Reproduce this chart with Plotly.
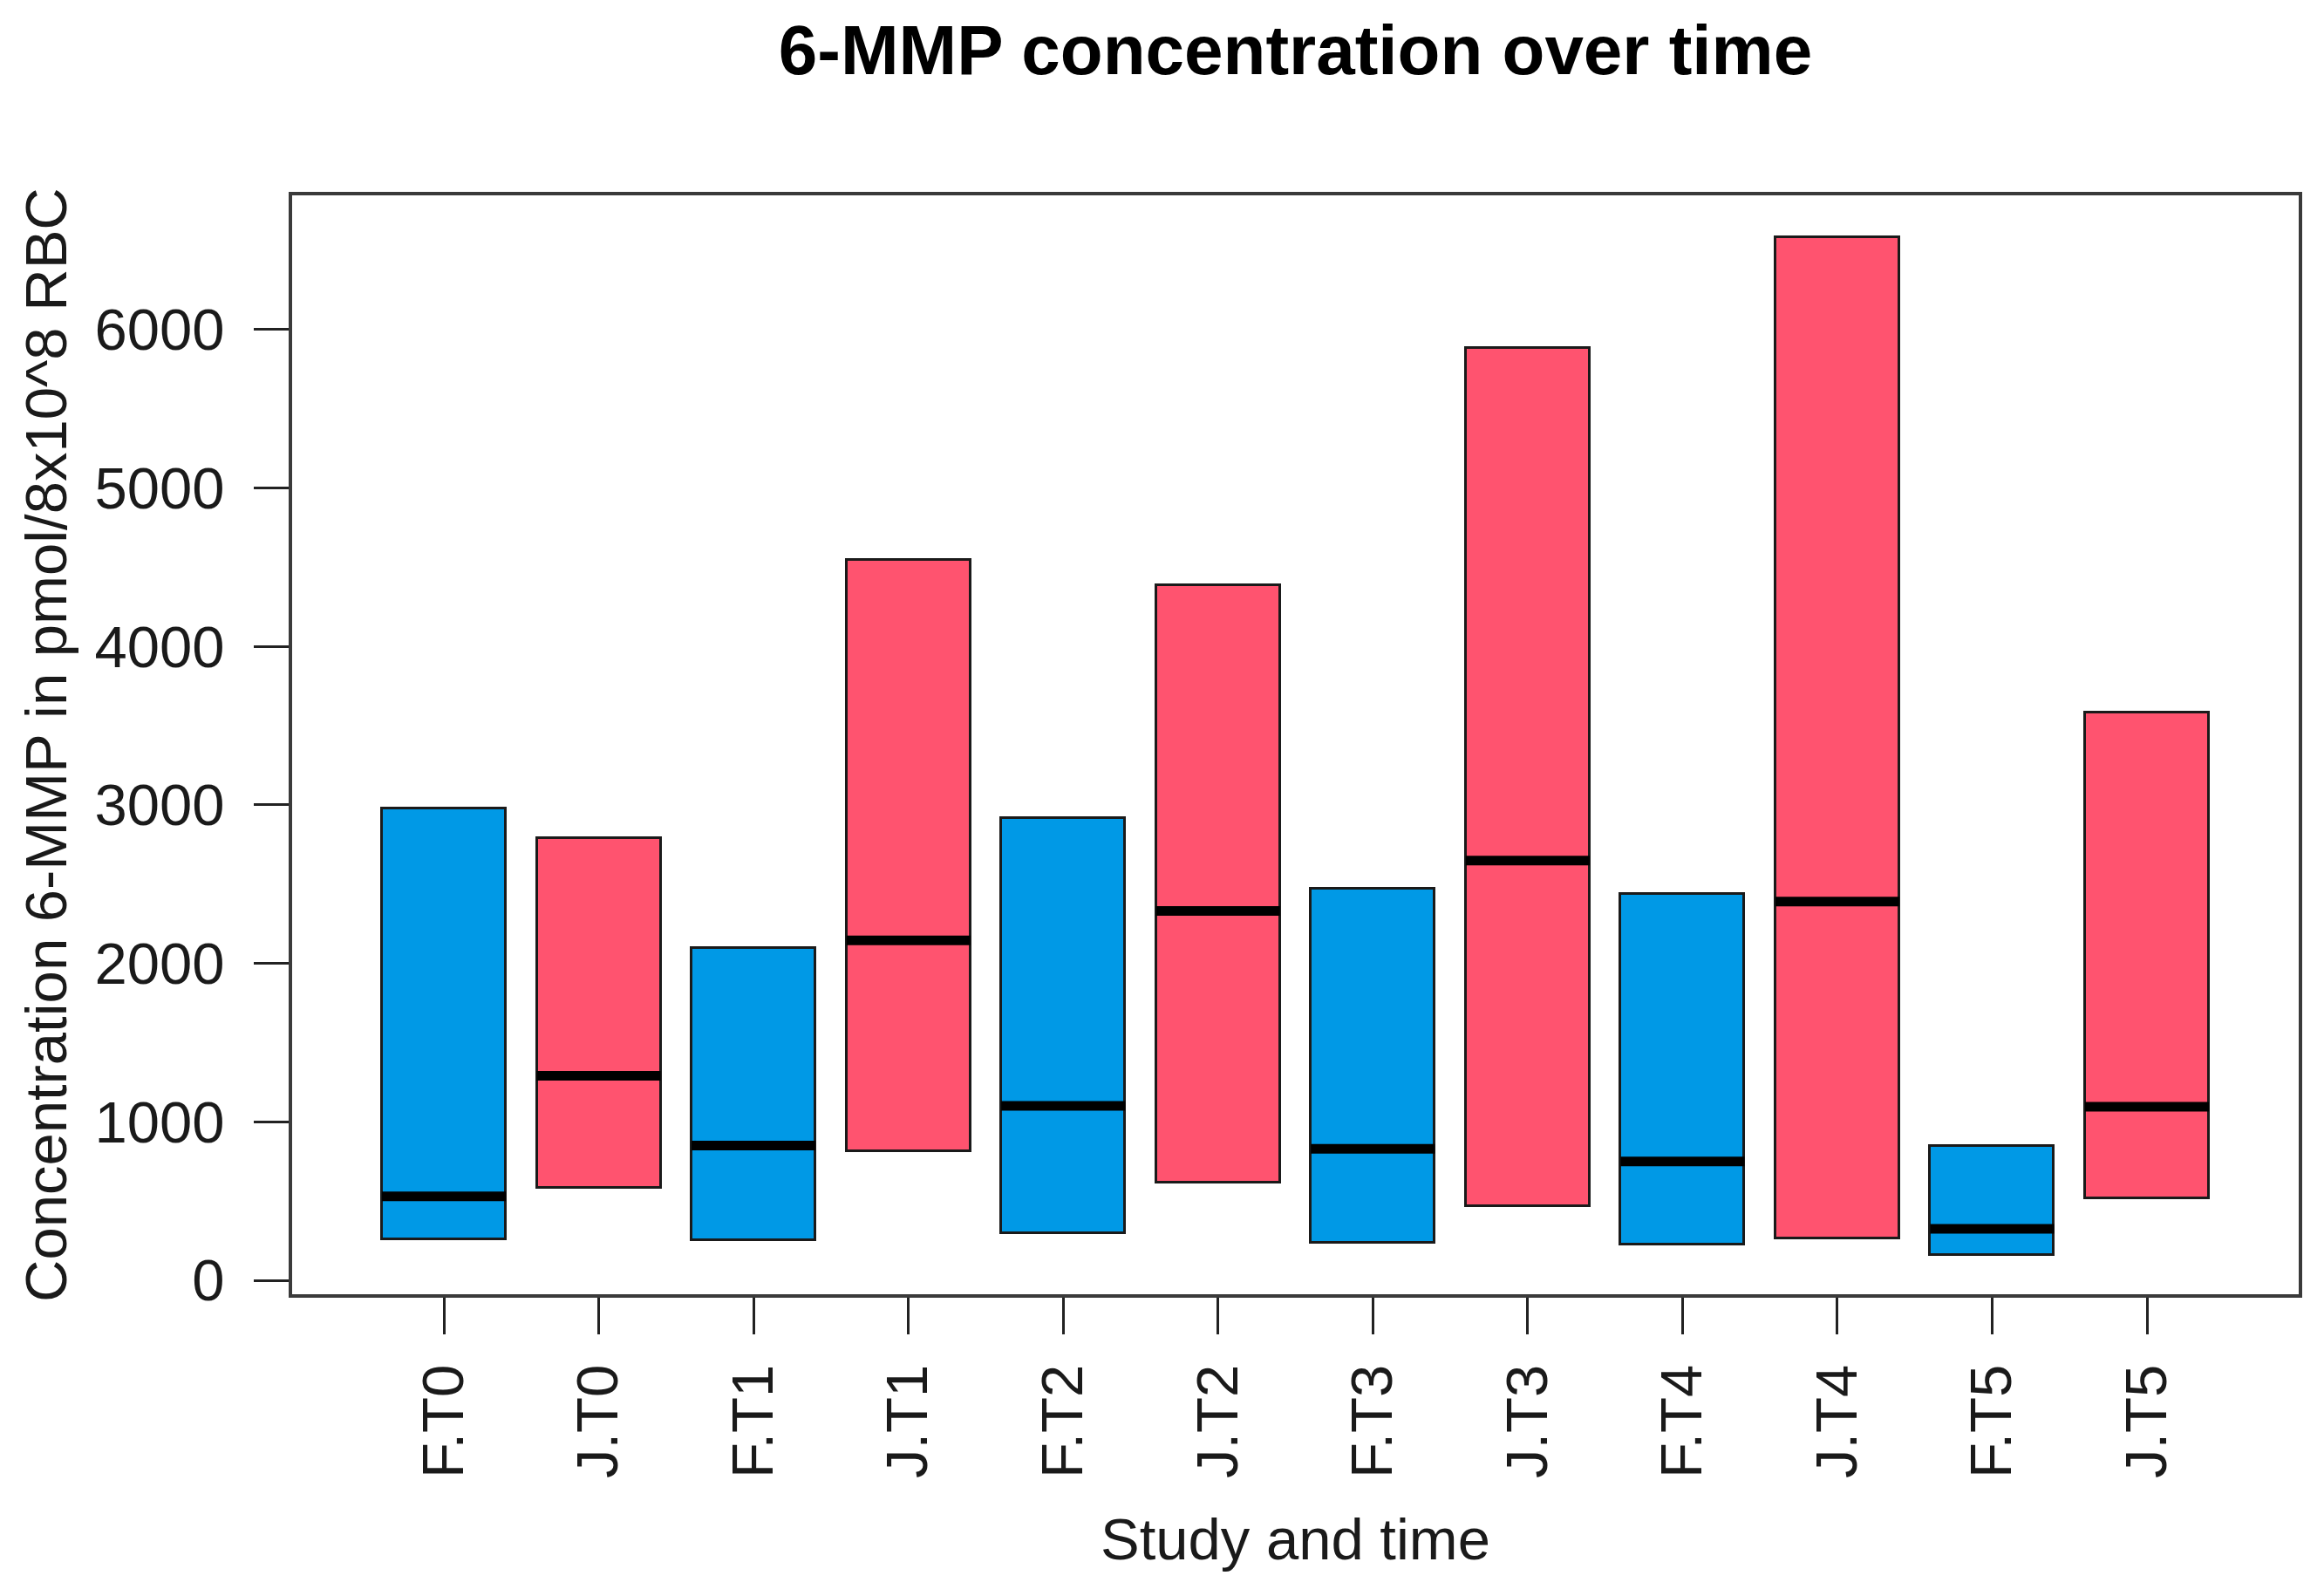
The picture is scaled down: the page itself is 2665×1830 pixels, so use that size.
import plotly.graph_objects as go

categories = ["F.T0", "J.T0", "F.T1", "J.T1", "F.T2", "J.T2",
              "F.T3", "J.T3", "F.T4", "J.T4", "F.T5", "J.T5"]
lower = [258, 585, 255, 815, 300, 615, 238, 470, 228, 265, 160, 515]
median = [530, 1290, 850, 2145, 1100, 2330, 830, 2648, 750, 2390, 325, 1095]
upper = [2975, 2792, 2097, 4545, 2915, 4385, 2470, 5884, 2440, 6580, 845, 3585]
study_colors = {"F": "#0099e6", "J": "#ff536f"}

x_pos = list(range(len(categories)))
box_w = 0.8
colors = [study_colors[c[0]] for c in categories]

fig = go.Figure()
fig.add_trace(go.Bar(
    x=x_pos,
    y=[u - l for u, l in zip(upper, lower)],
    base=lower,
    width=box_w,
    marker=dict(color=colors, line=dict(color="#1a1a1a", width=3)),
    showlegend=False,
    hoverinfo="skip",
))

mx, my = [], []
for xi, m in zip(x_pos, median):
    mx += [xi - box_w / 2, xi + box_w / 2, None]
    my += [m, m, None]
fig.add_trace(go.Scatter(x=mx, y=my, mode="lines",
                         line=dict(color="#000000", width=11),
                         showlegend=False, hoverinfo="skip"))

font_family = "Liberation Sans, Arial, sans-serif"
txt = "#1a1a1a"

W, H = 2649, 1814
ML, MR, MT, MB = 327, 21, 216, 338
PW, PH = W - ML - MR, H - MT - MB

fig.update_layout(
    width=W, height=H,
    margin=dict(l=ML, r=MR, t=MT, b=MB),
    paper_bgcolor="white", plot_bgcolor="white",
    font=dict(family=font_family, size=67, color=txt),
    title=dict(text="6-MMP concentration over time",
               x=0.5, xref="paper", xanchor="center",
               y=1 - 49 / H, yref="container", yanchor="middle",
               font=dict(size=80, weight="bold", color="#000000")),
    bargap=0,
)

fig.update_xaxes(
    range=[-0.98, 11.98],
    tickmode="array", tickvals=x_pos, ticktext=categories,
    tickangle=-90,
    ticks="outside", ticklen=42, tickwidth=2.5, tickcolor="#222222",
    showline=True, linecolor="#3a3a3a", linewidth=4, mirror=True,
    showgrid=False, zeroline=False,
    ticklabelstandoff=8,
    tickfont=dict(size=67, color=txt),
)
fig.update_yaxes(
    range=[-88, 6846],
    tickmode="array", tickvals=[0, 1000, 2000, 3000, 4000, 5000, 6000],
    ticktext=["0", "1000", "2000", "3000", "4000", "5000", "6000"],
    ticks="outside", ticklen=40, tickwidth=2.5, tickcolor="#222222",
    showline=True, linecolor="#3a3a3a", linewidth=4, mirror=True,
    showgrid=False, zeroline=False,
    ticklabelstandoff=20,
    tickfont=dict(size=67, color=txt),
)

fig.add_annotation(text="Study and time", xref="paper", yref="paper",
                   x=0.5, y=-(1766 - 1486) / PH, xanchor="center", yanchor="middle",
                   showarrow=False, font=dict(size=67, color=txt))
fig.add_annotation(text="Concentration 6-MMP in pmol/8x10^8 RBC", xref="paper", yref="paper",
                   x=(50 - 333) / PW, y=0.5, xanchor="center", yanchor="middle",
                   textangle=-90, showarrow=False, font=dict(size=67, color=txt))

fig.write_html("out.html")
